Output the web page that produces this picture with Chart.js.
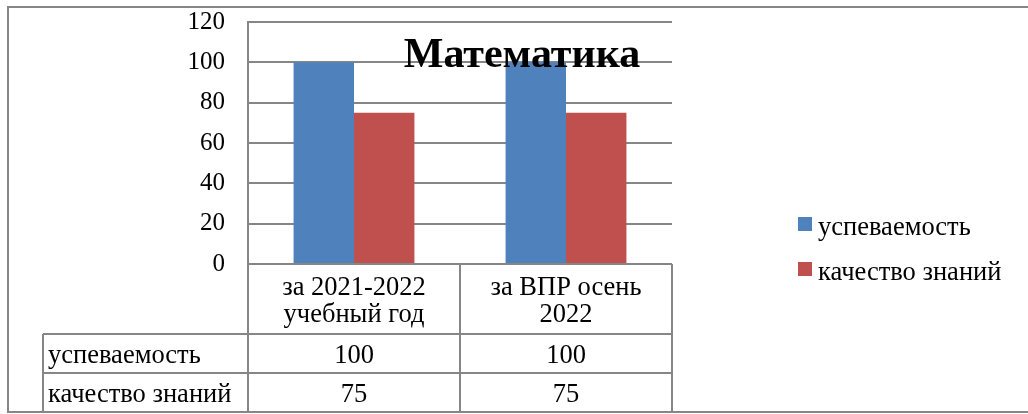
<!DOCTYPE html>
<html>
<head>
<meta charset="utf-8">
<script src="https://cdn.jsdelivr.net/npm/chart.js@4/dist/chart.umd.min.js"></script>
<style>
  html, body { margin: 0; padding: 0; background: #fff; }
  #wrap { width: 1028px; height: 414px; }
</style>
</head>
<body>
<div id="wrap"><canvas id="chart" width="1028" height="414"></canvas></div>
<script>
// data
const categories = [["за 2021-2022", "учебный год"], ["за ВПР осень", "2022"]];
const seriesNames = ["успеваемость", "качество знаний"];
const uspevaemost = [100, 100];
const kachestvo = [75, 75];
const seriesColors = ["#4F81BD", "#C0504D"];

const FONT = "'Liberation Serif', 'Times New Roman', serif";
const LINE = "#868686";

// table under the plot + legend + title + frame
const extras = {
  id: "extras",
  afterDraw(chart) {
    const { ctx, chartArea } = chart;
    const xs = chart.scales.x;
    const n = categories.length;
    const half = (chartArea.right - chartArea.left) / n / 2;
    const top = chartArea.bottom;
    const headBottom = top + 70;
    const rowH = 39;
    const tableLeft = 43;
    const bottom = headBottom + rowH * 2;

    ctx.save();
    ctx.strokeStyle = LINE;
    ctx.lineWidth = 2;

    // outer frame
    ctx.strokeRect(8, 7, 1040, 405);

    // table lines
    ctx.beginPath();
    ctx.moveTo(chartArea.left, top);
    ctx.lineTo(chartArea.left, bottom);
    ctx.moveTo(chartArea.right, top);
    ctx.lineTo(chartArea.right, bottom);
    for (let i = 1; i < n; i++) {
      const bx = xs.getPixelForValue(i) - half;
      ctx.moveTo(bx, top);
      ctx.lineTo(bx, bottom);
    }
    ctx.moveTo(tableLeft, headBottom);
    ctx.lineTo(chartArea.right, headBottom);
    ctx.moveTo(tableLeft, headBottom + rowH);
    ctx.lineTo(chartArea.right, headBottom + rowH);
    ctx.moveTo(tableLeft, bottom);
    ctx.lineTo(chartArea.right, bottom);
    ctx.moveTo(tableLeft, headBottom);
    ctx.lineTo(tableLeft, bottom);
    ctx.stroke();

    ctx.fillStyle = "#000";
    ctx.font = "26.5px " + FONT;
    ctx.textBaseline = "alphabetic";

    // category header
    ctx.textAlign = "center";
    categories.forEach((lines, i) => {
      const cx = xs.getPixelForValue(i);
      ctx.fillText(lines[0], cx, top + 31);
      ctx.fillText(lines[1], cx, top + 58);
    });

    // series rows
    chart.data.datasets.forEach((ds, r) => {
      const by = headBottom + rowH * (r + 1) - 10;
      ctx.textAlign = "left";
      ctx.fillText(ds.label, tableLeft + 5, by);
      ctx.textAlign = "center";
      ds.data.forEach((v, i) => {
        ctx.fillText(String(v), xs.getPixelForValue(i), by);
      });
    });

    // legend
    ctx.textAlign = "left";
    chart.data.datasets.forEach((ds, r) => {
      const ly = 217 + r * 45;
      ctx.fillStyle = ds.backgroundColor;
      ctx.fillRect(798, ly, 14, 14);
      ctx.fillStyle = "#000";
      ctx.fillText(ds.label, 818, ly + 18);
    });

    // title
    ctx.font = "bold 42px " + FONT;
    ctx.textAlign = "center";
    ctx.fillText("Математика", 522, 67);
    ctx.restore();
  }
};

new Chart(document.getElementById("chart"), {
  type: "bar",
  data: {
    labels: categories,
    datasets: [
      { label: seriesNames[0], data: uspevaemost, backgroundColor: seriesColors[0] },
      { label: seriesNames[1], data: kachestvo, backgroundColor: seriesColors[1] }
    ]
  },
  options: {
    responsive: false,
    animation: false,
    events: [],
    layout: { padding: { top: 22, bottom: 150, right: 356, left: 0 } },
    datasets: {
      bar: { categoryPercentage: 0.57, barPercentage: 1.0 }
    },
    plugins: {
      legend: { display: false },
      title: { display: false },
      tooltip: { enabled: false }
    },
    scales: {
      x: { display: false },
      y: {
        min: 0,
        max: 120,
        ticks: {
          stepSize: 20,
          padding: 23,
          color: "#000",
          font: { family: FONT, size: 25 }
        },
        grid: { color: LINE, lineWidth: 2, drawTicks: false },
        border: { color: LINE, width: 2 },
        afterFit(s) {
          s.width = 248;
          s.paddingTop = 0;
          s.paddingBottom = 0;
        }
      }
    }
  },
  plugins: [extras]
});
</script>
</body>
</html>
